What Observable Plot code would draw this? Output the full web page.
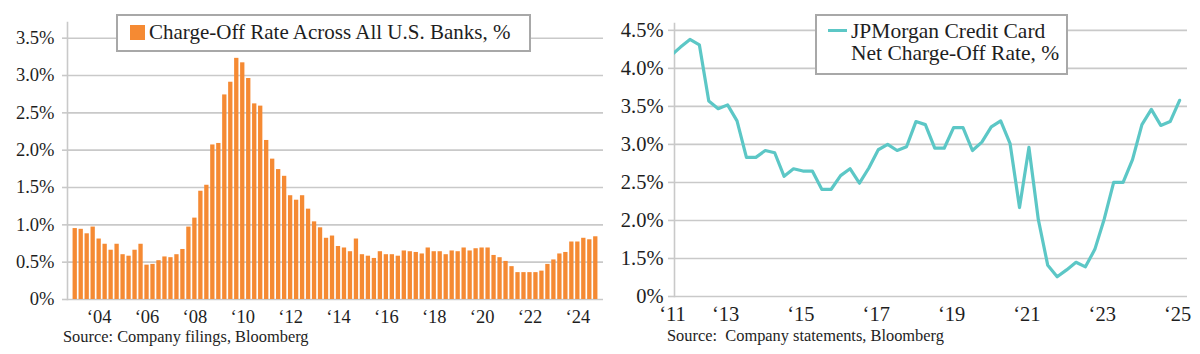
<!DOCTYPE html>
<html><head><meta charset="utf-8">
<script src="https://cdn.jsdelivr.net/npm/d3@7"></script>
<script src="https://cdn.jsdelivr.net/npm/@observablehq/plot@0.6"></script>
<style>
body{margin:0;background:#fff;}
#wrap{position:relative;width:1200px;height:354px;overflow:hidden;font-family:"Liberation Serif",serif;color:#1e1e1e;}
.chart{position:absolute;top:0;}
</style></head>
<body><div id="wrap"></div>
<script>
// ---- Left chart: Charge-Off Rate Across All U.S. Banks, % (quarterly 2003Q1-2024Q4)
const bankStartYear = 2003;
const bankRate = [
 0.95,0.94,0.88,0.97, 0.81,0.74,0.66,0.74, 0.60,0.58,0.66,0.74, 0.46,0.47,0.52,0.57,
 0.56,0.60,0.67,0.97, 1.09,1.45,1.53,2.07, 2.09,2.74,2.91,3.23, 3.17,2.96,2.62,2.59,
 2.13,1.88,1.74,1.65, 1.39,1.33,1.39,1.21, 1.04,0.96,0.82,0.85, 0.71,0.69,0.64,0.81,
 0.60,0.58,0.55,0.64, 0.60,0.60,0.58,0.65, 0.64,0.63,0.61,0.69, 0.64,0.64,0.60,0.65,
 0.64,0.69,0.65,0.68, 0.69,0.69,0.59,0.56, 0.51,0.44,0.36,0.36, 0.36,0.36,0.38,0.47,
 0.53,0.61,0.63,0.77, 0.77,0.82,0.80,0.84
];
const bankQuarters = bankRate.map((_, i) => `${bankStartYear + Math.floor(i / 4)}Q${(i % 4) + 1}`);
const bankYTicks = [0, 0.5, 1, 1.5, 2, 2.5, 3, 3.5];
const bankYLabels = ["0%", "0.5%", "1.0%", "1.5%", "2.0%", "2.5%", "3.0%", "3.5%"];
const bankXTicks = ["2004Q1","2006Q1","2008Q1","2010Q1","2012Q1","2014Q1","2016Q1","2018Q1","2020Q1","2022Q1","2024Q1"];
const bankXLabels = ["‘04","‘06","‘08","‘10","‘12","‘14","‘16","‘18","‘20","‘22","‘24"];

// ---- Right chart: JPMorgan Credit Card Net Charge-Off Rate, % (quarterly)
const cardTime = [
 2011.50,2011.75,2012.00,2012.25,2012.50,2012.75,2013.00,2013.25,2013.50,2013.75,
 2014.00,2014.25,2014.50,2014.75,2015.00,2015.25,2015.50,2015.75,2016.00,2016.25,
 2016.50,2016.75,2017.00,2017.25,2017.50,2017.75,2018.00,2018.25,2018.50,2018.75,
 2019.00,2019.25,2019.50,2019.75,2020.00,2020.25,2020.50,2020.75,2021.00,2021.25,
 2021.50,2021.75,2022.00,2022.25,2022.50,2022.75,2023.00,2023.25,2023.50,2023.75,
 2024.00,2024.25,2024.50,2024.75,2025.00
];
const cardRate = [
 4.17,4.28,4.38,4.31,3.57,3.47,3.52,3.31,2.83,2.83,
 2.92,2.89,2.58,2.68,2.65,2.65,2.41,2.41,2.59,2.68,
 2.49,2.69,2.93,3.00,2.92,2.97,3.30,3.26,2.95,2.95,
 3.22,3.22,2.92,3.03,3.23,3.31,3.01,2.17,2.96,2.01,
 1.41,1.26,1.35,1.45,1.39,1.62,2.02,2.50,2.50,2.80,
 3.26,3.46,3.25,3.30,3.58
];
const cardYTicks = [1.0, 1.5, 2.0, 2.5, 3.0, 3.5, 4.0, 4.5];
const cardYLabels = ["0%", "1.5%", "2.0%", "2.5%", "3.0%", "3.5%", "4.0%", "4.5%"];
const cardXTicks = [2011.59, 2013, 2015, 2017, 2019, 2021, 2023, 2025];
const cardXLabels = ["‘11","‘13","‘15","‘17","‘19","‘21","‘23","‘25"];

const GRID = "#c9c9c9";
const ORANGE = "#f58a33";
const TEAL = "#5cc7c6";

const bankData = bankQuarters.map((q, i) => ({q, v: bankRate[i]}));
const cardData = cardTime.map((t, i) => ({t, v: cardRate[i]}));

const left = Plot.plot({
  width: 608, height: 330,
  marginLeft: 67, marginRight: 5, marginTop: 22, marginBottom: 31,
  style: {fontFamily: "Liberation Serif", fontSize: "18.5px", color: "#1e1e1e", background: "transparent", overflow: "visible"},
  x: {type: "band", domain: bankQuarters, paddingInner: 0.28, paddingOuter: 0.93, axis: null},
  y: {domain: [0, 3.71], axis: null},
  marks: [
    Plot.gridY(bankYTicks, {stroke: GRID, strokeOpacity: 1, strokeWidth: 1.6}),
    Plot.frame({anchor: "left", stroke: GRID, strokeWidth: 1.6}),
    Plot.axisY({ticks: bankYTicks, tickFormat: d => bankYLabels[bankYTicks.indexOf(d)], tickSize: 5, tickPadding: 8, stroke: GRID, strokeWidth: 1.6, label: null}),
    Plot.barY(bankData, {x: "q", y: "v", fill: ORANGE}),
    Plot.axisX({ticks: bankXTicks, tickFormat: d => bankXLabels[bankXTicks.indexOf(d)], tickSize: 0, tickPadding: 10, label: null})
  ]
});

const right = Plot.plot({
  width: 592, height: 330,
  marginLeft: 66, marginRight: 13, marginTop: 23, marginBottom: 34,
  style: {fontFamily: "Liberation Serif", fontSize: "20.5px", color: "#1e1e1e", background: "transparent", overflow: "visible"},
  x: {domain: [2011.59, 2025.21], axis: null},
  y: {domain: [1.0, 4.59], axis: null},
  marks: [
    Plot.gridY(cardYTicks, {stroke: GRID, strokeOpacity: 1, strokeWidth: 1.6}),
    Plot.frame({anchor: "left", stroke: GRID, strokeWidth: 1.6}),
    Plot.axisY({ticks: cardYTicks, tickFormat: d => cardYLabels[cardYTicks.indexOf(d)], tickSize: 6, tickPadding: 5, stroke: GRID, strokeWidth: 1.6, label: null}),
    Plot.lineY(cardData, {x: "t", y: "v", stroke: TEAL, strokeWidth: 3.2, clip: true}),
    Plot.axisX({ticks: cardXTicks, tickFormat: d => cardXLabels[cardXTicks.indexOf(d)], tickSize: 0, tickPadding: 10, dx: -2, label: null})
  ]
});

const wrap = document.getElementById("wrap");
left.classList.add("chart"); left.style.left = "0px";
right.classList.add("chart"); right.style.left = "608px";
wrap.appendChild(left);
wrap.appendChild(right);

function add(html, css) {
  const d = document.createElement("div");
  d.innerHTML = html;
  Object.assign(d.style, css);
  wrap.appendChild(d);
  return d;
}
// Left legend
add("", {position: "absolute", left: "116px", top: "14px", width: "415px", height: "38px", background: "#fff", border: "2px solid #a8a8a8", boxSizing: "border-box"});
add("", {position: "absolute", left: "130px", top: "25px", width: "15px", height: "15px", background: ORANGE});
add("Charge-Off Rate Across All U.S. Banks, %", {position: "absolute", left: "149px", top: "21px", fontSize: "21px", lineHeight: "22px", whiteSpace: "pre"});
// Right legend
add("", {position: "absolute", left: "815px", top: "14px", width: "253px", height: "61px", background: "#fff", border: "2px solid #a8a8a8", boxSizing: "border-box"});
add("", {position: "absolute", left: "828px", top: "28.5px", width: "19px", height: "3px", background: TEAL});
add("JPMorgan Credit Card<br>Net Charge-Off Rate, %", {position: "absolute", left: "851px", top: "20px", fontSize: "21.5px", lineHeight: "22px", whiteSpace: "pre"});
// Sources
add("Source: Company filings, Bloomberg", {position: "absolute", left: "63px", top: "326.5px", fontSize: "16.4px", lineHeight: "20px", whiteSpace: "pre"});
add("Source:  Company statements, Bloomberg", {position: "absolute", left: "667px", top: "326px", fontSize: "16.4px", lineHeight: "20px", whiteSpace: "pre"});
</script>
</body></html>
